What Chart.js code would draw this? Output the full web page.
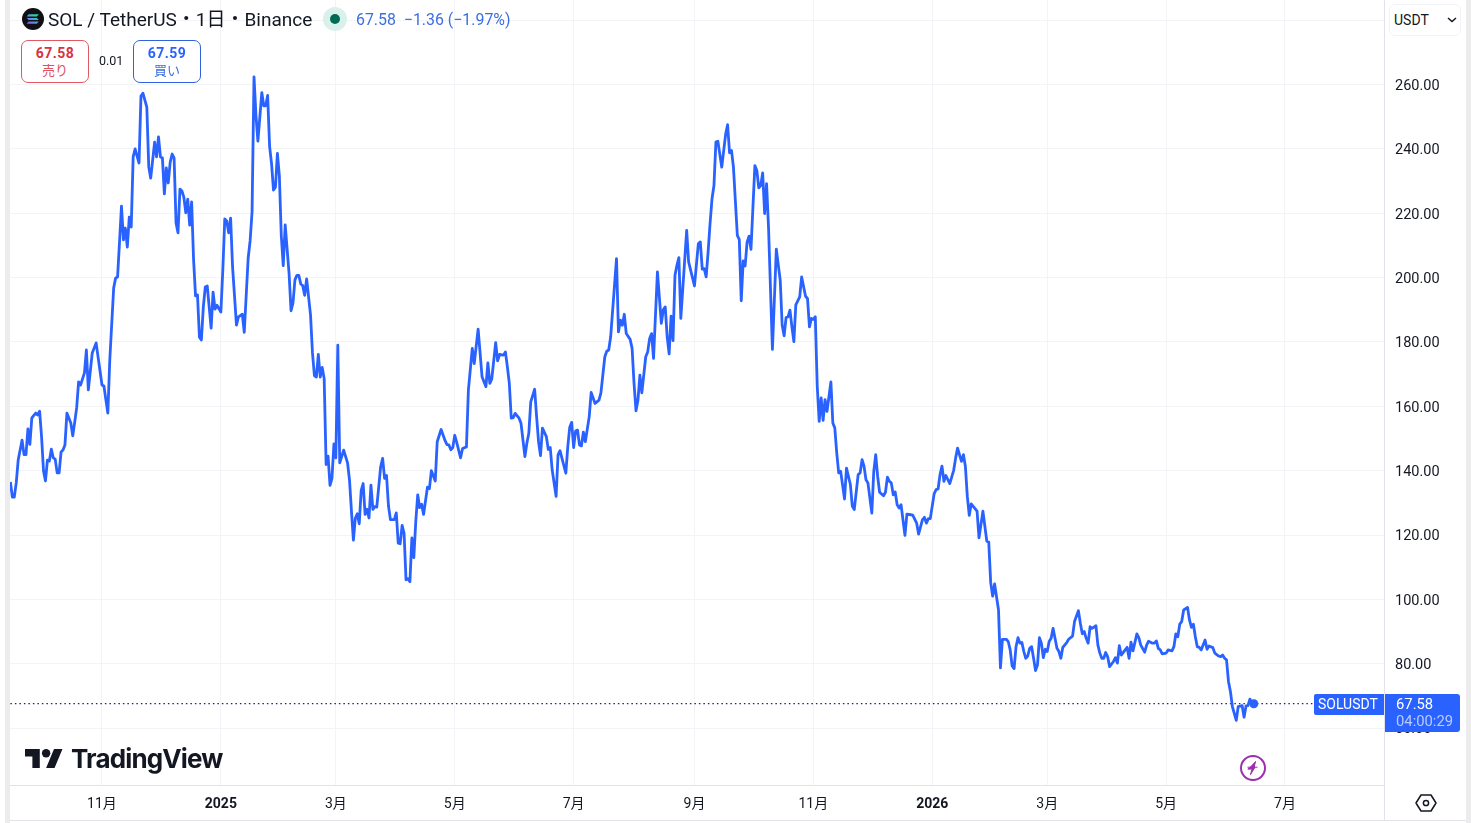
<!DOCTYPE html>
<html lang="ja">
<head>
<meta charset="utf-8">
<title>SOL / TetherUS</title>
<script src="https://cdn.jsdelivr.net/npm/chart.js@4/dist/chart.umd.min.js"></script>
<style>
  * { box-sizing: border-box; }
  html, body { margin: 0; height: 100%; background: #fff; overflow: hidden; }
  body { font-family: Roboto, "Noto Sans CJK JP", sans-serif; color: #131722; }
  #wrap { position: relative; width: 1471px; height: 823px; }
  #wrap canvas { position: absolute; left: 0; top: 0; }
  .abs { position: absolute; white-space: nowrap; }
  .strip { position: absolute; background: #ececec; }
  .rule { position: absolute; background: #e0e3eb; }
  .title { left: 48px; top: 8px; font-size: 19px; line-height: 24px; }
  .quote { left: 356px; top: 9px; font-size: 15.9px; line-height: 22px; color: #3b6fe0; }
  .btn { position: absolute; top: 40px; height: 43px; border: 1px solid; border-radius: 7px; text-align: center; background: #fff; }
  .btn b { display: block; font-size: 14px; line-height: 17px; margin-top: 4px; font-weight: 700; letter-spacing: .5px; }
  .btn span { display: block; font-size: 13px; line-height: 17px; }
  .sell { left: 21px; width: 68px; border-color: #dd5a65; color: #e0505c; }
  .sell b { color: #d8323f; }
  .buy { left: 133px; width: 68px; border-color: #2f62dc; color: #3b6fe0; }
  .buy b { color: #2962ff; }
  .spread { left: 99px; top: 53px; font-size: 12.5px; line-height: 16px; }
  .cur { left: 1389px; top: 4px; width: 72px; height: 32px; border: 1px solid #f0f3fa; border-radius: 6px; background: #fff; font-size: 14px; line-height: 31px; padding-left: 4px; }
  .tv { left: 71px; top: 741px; font-family: Inter, Roboto, sans-serif; font-size: 26px; line-height: 36px; font-weight: 700; letter-spacing: -.85px; color: #131722; }
</style>
</head>
<body>
<div id="wrap">
  <canvas id="chart" width="1471" height="823"></canvas>

  <div class="strip" style="left:5px;top:0;width:5px;height:823px"></div>
  <div class="strip" style="left:1466px;top:0;width:5px;height:823px"></div>
  <div class="rule" style="left:1384px;top:0;width:1px;height:820px"></div>
  <div class="rule" style="left:10px;top:820px;width:1456px;height:1px"></div>

  <svg class="abs" style="left:22px;top:8px" width="22" height="22" viewBox="0 0 22 22">
    <defs>
      <linearGradient id="sol" x1="0" y1="1" x2="1" y2="0">
        <stop offset="0" stop-color="#9945ff"/><stop offset=".5" stop-color="#4fa0d8"/><stop offset="1" stop-color="#14f195"/>
      </linearGradient>
    </defs>
    <circle cx="11" cy="11" r="11" fill="#101014"/>
    <path d="M6.6 6.2h10.2l-2 2.2H4.6zM4.6 9.9h10.2l2 2.2H6.6zM6.6 13.6h10.2l-2 2.2H4.6z" fill="url(#sol)"/>
  </svg>
  <div class="abs title">SOL / TetherUS・1日・Binance</div>
  <svg class="abs" style="left:323px;top:7px" width="24" height="24">
    <circle cx="12" cy="12" r="12" fill="#daf0eb"/><circle cx="12" cy="12" r="5" fill="#006b55"/>
  </svg>
  <div class="abs quote">67.58 &nbsp;−1.36 (−1.97%)</div>

  <div class="btn sell"><b>67.58</b><span>売り</span></div>
  <div class="abs spread">0.01</div>
  <div class="btn buy"><b>67.59</b><span>買い</span></div>

  <div class="abs cur">USDT</div>
  <svg class="abs" style="left:1447px;top:17px" width="10" height="6"><path d="M1 1l4 3.5L9 1" fill="none" stroke="#131722" stroke-width="1.5"/></svg>

  <svg class="abs" style="left:25px;top:749px" width="38" height="19" viewBox="0 4 36 18">
    <path d="M14 22H7V11H0V4h14v18zM28 22h-8l7.5-18h8L28 22z" fill="#131722"/><circle cx="20" cy="8" r="4" fill="#131722"/>
  </svg>
  <div class="abs tv">TradingView</div>

  <svg class="abs" style="left:1240px;top:755px" width="26" height="26" viewBox="0 0 26 26">
    <circle cx="13" cy="13" r="12" fill="#fff" stroke="#9c2fb0" stroke-width="2"/>
    <path d="M15.5 6.5l-5 5.6h4.6l-4.6 7.4 1.6-5.4H7.8l3-2.1h3.4z M7.5 12.2h10" fill="#9c2fb0" stroke="#9c2fb0" stroke-width="1" stroke-linejoin="round"/>
  </svg>

  <svg class="abs" style="left:1415px;top:793px" width="22" height="20" viewBox="0 0 22 20">
    <path d="M6 2h10l5 8-5 8H6l-5-8z" fill="none" stroke="#131722" stroke-width="1.5" stroke-linejoin="round"/>
    <circle cx="11" cy="10" r="2.6" fill="none" stroke="#131722" stroke-width="1.5"/>
  </svg>
</div>

<script>
// daily closes, days counted from 2024-09-15 (quiet days left out)
const days = [
  0,1,2,3,4,6,7,8,9,10,11,13,14,15,16,17,18,19,20,21,
  22,23,24,25,26,27,28,29,31,32,33,34,35,36,38,39,40,42,44,45,
  47,48,49,50,51,53,54,55,56,57,58,59,60,61,62,63,64,66,67,68,
  70,71,72,74,75,76,77,78,79,80,81,82,83,84,85,86,87,88,89,90,
  91,92,93,94,95,96,97,98,99,100,101,103,104,105,106,108,109,110,111,112,
  113,114,116,117,119,120,122,123,124,125,126,127,129,130,131,132,133,134,135,136,
  137,138,139,140,141,143,144,145,146,147,148,149,150,151,152,154,155,156,157,158,
  159,160,161,162,163,164,165,166,167,168,169,171,173,174,175,176,177,178,179,180,
  181,182,183,184,185,186,187,188,190,191,192,193,194,195,197,198,199,200,201,202,
  203,204,205,206,207,208,209,210,211,212,214,215,216,218,219,221,223,224,225,226,
  227,228,229,231,232,234,235,237,238,240,242,244,245,246,247,249,250,251,253,254,
  255,256,257,258,259,261,262,264,265,266,267,269,270,271,272,273,275,276,277,278,
  280,281,282,283,285,286,287,288,289,290,291,292,293,294,295,297,298,300,302,303,
  305,306,307,308,311,312,313,314,315,316,318,319,320,321,322,323,324,326,327,328,
  329,330,332,334,335,336,337,338,339,340,341,342,343,344,347,348,351,353,354,355,
  356,357,358,359,360,361,362,363,365,367,368,369,370,371,373,374,375,376,377,378,
  379,380,381,382,383,384,385,386,387,388,389,391,393,395,396,397,398,399,400,401,
  402,403,405,406,408,409,410,411,412,413,414,415,416,417,418,419,421,422,423,424,
  425,426,428,429,431,432,433,435,436,437,438,439,440,442,443,444,445,446,448,449,
  450,451,452,453,454,455,456,457,459,460,462,463,465,466,468,469,470,471,472,474,
  475,476,477,478,479,480,482,484,485,486,488,489,490,491,492,493,496,497,499,501,
  502,503,504,505,507,508,509,511,512,513,514,515,516,517,518,519,520,521,522,523,
  524,525,526,527,528,529,530,531,532,533,534,535,536,537,538,539,540,542,543,545,
  546,548,549,550,551,552,553,554,555,557,558,559,560,561,562,563,564,566,567,568,
  569,570,572,573,574,575,576,578,579,580,582,583,584,586,587,588,589,590,591,593,
  594,596,597,598,599,600,601,602,604,605,606,607,608,609,610,611,613,614,615,617,
  618,620,621,622,623,624,625,626,627,629,630,632,633,634,635,636,637,638
];
const prices = [
  136.5,131.8,131.8,136.2,143.3,149.5,145,145,153,148.2,156.4,157.9,157.3,158.5,150.5,139.9,136.8,143.3,143,146.7,
  144,143.6,139.3,139.3,145.8,146.4,148,157.9,154.8,150.8,155.1,159.5,167.6,166.6,170.4,177.5,165.1,176.6,179.7,175.3,
  166.6,166.3,162,157.9,174.4,196.8,199.9,200.2,211.1,222.2,211.7,215.4,209.5,218.8,215.7,237.5,240,235.6,256.4,257.3,
  253,234.4,230.9,242.1,237.5,243.7,237.5,237.2,226,234.1,229.4,235.9,238.4,237.2,217,213.9,227.5,226.9,225,220.1,
  224.4,216.3,223.5,205.5,194.3,194.6,181.5,180.6,190.9,197.1,197.4,184.3,195.5,190.2,191.4,189.3,202.4,218.2,217.6,213.9,
  218.5,203.3,185.2,187.8,188.6,183,206,211.4,220.4,262.4,250.4,242.4,257.5,253.4,253.4,256.6,240.8,235.4,227.2,228.1,
  238.6,231.7,213,203.7,216.4,201.2,189.7,192.1,199.3,200.7,200.7,198,197.5,194.5,199.6,188.4,176.6,169.5,169.1,176.1,
  169.1,172.1,168.6,141.9,144.5,135.4,137.6,148.3,144,179,142.4,146.4,142.4,137.1,127.4,118.4,125.3,126.6,123.5,133.9,
  136,126.4,128,125.3,135.5,128,128.8,128.7,141.3,143.8,137.6,138.5,129,124.8,124.8,126.9,117.5,117.3,123,120.5,
  106.1,106.4,105.5,119.1,113,124.2,132.5,128.5,129.6,126.4,134.9,134.4,140,136.8,149,152.8,149.4,148.1,148,146.5,
  147.2,151,148.8,144,146.9,147.4,165,178,173.3,184,169.2,166.1,173.5,167.1,168.5,179.8,174.1,176.1,175.9,176.9,
  172.3,167.1,156.3,156.5,157.8,156.3,154.7,144.4,148.5,151.6,161.4,165.3,156.8,149,144.7,153.2,150.6,146.6,147.2,140.2,
  132,144.9,146.2,143.9,139.2,147.5,153.5,155,147.2,152.3,152.6,148,147.7,152,149,156.8,164.3,160.9,161.9,164.2,
  175.4,177.1,177.5,181.6,205.9,183.1,186.8,185.2,188.6,182.6,180.8,178,167.1,158.6,161.9,169.7,164.2,175.4,176.9,181.1,
  182.6,174.9,201.8,185.8,190,190.9,181.6,176.3,188,180.4,200.7,203.8,206.2,187.3,214.7,204.9,197.4,210.6,211.1,202.6,
  202.8,200.2,208,216.8,224.5,228.6,242.1,242.4,234.3,244.6,247.5,238.8,239.5,234.3,213.1,211.8,192.8,205.2,203.6,211,
  212.9,208.8,221.9,234.8,233.3,227.9,228.6,232.5,219.9,229.2,215.7,177.7,208.8,199.2,185.2,181.9,187.6,187.8,189.9,184.7,
  180.1,191.5,194,200.2,194.2,193.5,184.7,187.3,187,187.8,166.2,155.3,162.6,155.6,162.1,158.4,167.6,154.8,153.3,145.5,
  139.3,139.8,131.2,140.8,135.7,128.9,127.9,138.8,139.3,143.4,141.4,137.2,136.2,126.8,139.8,145,138.2,133.3,132.2,133.3,
  138,136.7,136.2,132.5,133.4,129.4,128.4,129.4,119.9,126.5,126.3,126.2,123.7,120.3,124.8,125.5,123.7,125.1,125.1,132.9,
  134.1,134.3,138.8,141.4,136.7,138.5,136,140.1,143.9,147,142.9,145,141.4,132,126.1,129.7,127.4,119.1,127.4,118.1,
  117.8,105.2,101,104.8,96.8,78.7,87.6,87.6,86.9,84.3,79.3,78.5,85.3,88.1,86.4,86.6,83.8,81.7,82.4,84.8,
  85.3,81.7,77.9,79.6,88.1,86.4,81.9,84.5,83.8,86.9,87.9,91,87.9,84.8,83.8,81.7,85.1,86.6,87.6,88.6,
  93.1,96.5,92.6,89.3,90,87.9,86.4,91.5,91,91.8,85.8,83.3,81.7,81.7,83.5,82.2,79.1,80.7,81.9,80.2,
  85.6,82.7,84.3,85.1,81.7,86.7,84,89.3,88.1,85.8,83.6,85.8,87,86.4,86.4,87.1,84.8,84.3,83.1,83.3,
  84.3,84,85.3,89.3,88.4,92.3,93.1,96.7,97.5,93.6,91.3,92.3,88.4,85.3,85.1,84.3,87.4,84.5,85.5,85,
  83.3,82.4,82.2,82.7,81.7,81.2,74.5,71.4,66.7,62.4,66.7,67,63.4,66.9,67,69,67.8,67.58
];

// month starts on the time axis
const monthDays = [47, 108, 167, 228, 289, 351, 412, 473, 532, 593, 654];
const monthLabels = ["11月", "2025", "3月", "5月", "7月", "9月", "11月", "2026", "3月", "5月", "7月"];
const yearLabels = ["2025", "2026"];
const priceTicks = [280, 260, 240, 220, 200, 180, 160, 140, 120, 100, 80, 60];

const lastPrice = 67.58;
const lineEndDay = 669;
const symbolName = "SOLUSDT";
const countdown = "04:00:29";

const BLUE = "#2962ff";
const GRID = "#f3f4f8";
const FONT = 'Roboto, "Noto Sans CJK JP", sans-serif';

// last price tags on the right, kept on the scale so they follow the line
const priceTag = {
  id: "priceTag",
  afterDraw(chart) {
    const { ctx, scales } = chart;
    const y = Math.round(scales.y.getPixelForValue(lastPrice));
    ctx.save();
    ctx.fillStyle = BLUE;
    ctx.beginPath();
    ctx.roundRect(1314, y - 10, 70, 21, [2, 0, 0, 2]);
    ctx.fill();
    ctx.beginPath();
    ctx.roundRect(1385, y - 10, 75, 38, [0, 3, 3, 0]);
    ctx.fill();
    ctx.textBaseline = "middle";
    ctx.font = "14px " + FONT;
    ctx.fillStyle = "#fff";
    ctx.fillText(symbolName, 1318, y + 1);
    ctx.font = "14.8px " + FONT;
    ctx.fillText(lastPrice.toFixed(2), 1396, y + 1);
    ctx.fillStyle = "#b9cbff";
    ctx.fillText(countdown, 1396, y + 18);
    ctx.restore();
  }
};

new Chart(document.getElementById("chart"), {
  type: "line",
  data: {
    datasets: [
      {
        label: "SOLUSDT",
        data: days.map((d, i) => ({ x: d, y: prices[i] })),
        borderColor: BLUE,
        backgroundColor: BLUE,
        borderWidth: 2.8,
        borderJoinStyle: "round",
        tension: 0,
        pointRadius: ctx => (ctx.dataIndex === days.length - 1 ? 4.5 : 0),
        pointBorderWidth: 0
      },
      {
        label: "last",
        data: [{ x: days[0], y: lastPrice }, { x: lineEndDay, y: lastPrice }],
        borderColor: "#14238f",
        borderWidth: 1.2,
        borderDash: [1.5, 3],
        pointRadius: 0
      }
    ]
  },
  options: {
    responsive: false,
    animation: false,
    devicePixelRatio: 1,
    events: [],
    layout: { autoPadding: false, padding: { left: 10 } },
    plugins: { legend: { display: false }, tooltip: { enabled: false } },
    scales: {
      x: {
        type: "linear",
        min: -0.2,
        max: 704.8,
        afterBuildTicks: axis => { axis.ticks = monthDays.map(value => ({ value })); },
        afterFit: axis => { axis.height = 38; axis.paddingLeft = 0; axis.paddingRight = 0; },
        border: { color: "#e0e3eb" },
        grid: { color: GRID, drawTicks: false },
        ticks: {
          maxRotation: 0,
          autoSkip: false,
          padding: 11,
          color: "#131722",
          callback: v => monthLabels[monthDays.indexOf(v)],
          font: ctx => ({
            family: FONT,
            size: 14,
            weight: ctx.tick && yearLabels.includes(monthLabels[monthDays.indexOf(ctx.tick.value)]) ? "bold" : "normal"
          })
        }
      },
      y: {
        position: "right",
        min: 42.32,
        max: 286.26,
        afterBuildTicks: axis => { axis.ticks = priceTicks.map(value => ({ value })); },
        afterFit: axis => { axis.width = 87; axis.paddingTop = 0; axis.paddingBottom = 0; },
        border: { color: "#e0e3eb" },
        grid: { color: GRID, drawTicks: false },
        ticks: {
          padding: 11,
          color: "#131722",
          autoSkip: false,
          // blank first line with a tiny line height nudges the label down onto its gridline
          callback: v => (v > 260 ? "" : ["", v.toFixed(2)]),
          font: { family: FONT, size: 14.5, lineHeight: "3.4px" }
        }
      }
    }
  },
  plugins: [priceTag]
});
</script>
</body>
</html>
